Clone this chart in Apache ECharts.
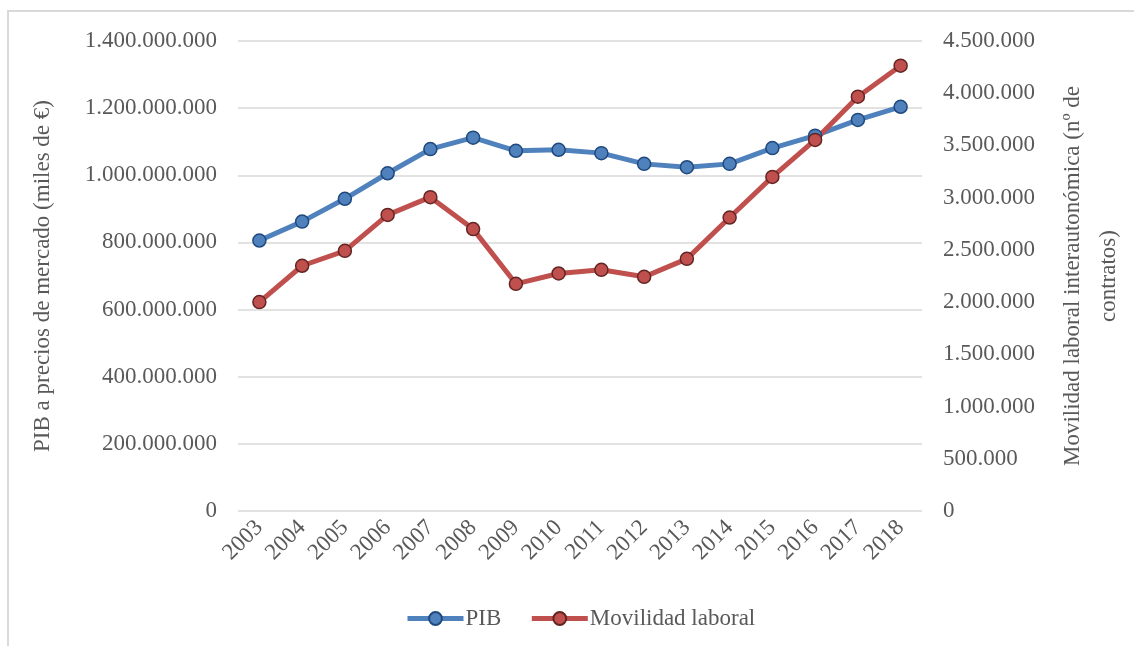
<!DOCTYPE html>
<html>
<head>
<meta charset="utf-8">
<script src="https://cdn.jsdelivr.net/npm/echarts@6/dist/echarts.min.js"></script>
<style>
  html, body { margin: 0; padding: 0; background: #fff; }
  #frame { position: absolute; left: 7px; top: 10px; width: 1127px; height: 636px;
    border-left: 2px solid #d9d9d9; border-top: 2px solid #d9d9d9; box-sizing: border-box; }
  #myChart { position: absolute; left: 0; top: 0; width: 1134px; height: 646px; }
</style>
</head>
<body>
<div id="frame"></div>
<div id="myChart"></div>
<script>
// años
var years = ['2003', '2004', '2005', '2006', '2007', '2008', '2009', '2010',
  '2011', '2012', '2013', '2014', '2015', '2016', '2017', '2018']
// PIB a precios de mercado (miles de €)
var pib = [805600000, 862000000, 930000000, 1006000000, 1078000000, 1112000000,
  1073000000, 1076000000, 1066000000, 1034000000, 1024000000, 1034000000,
  1081000000, 1118000000, 1165000000, 1204000000]
// movilidad laboral interautonómica (nº de contratos)
var movilidad = [2000000, 2348000, 2491000, 2835000, 3005000, 2699000,
  2175000, 2274000, 2309000, 2242000, 2414000, 2810000,
  3199000, 3553000, 3967000, 4264000]

var font = 'Liberation Serif'
var textColor = '#595959'
var fs = 23

// separador de miles con punto
function fmt (v) {
  return String(v).replace(/\B(?=(\d{3})+(?!\d))/g, '.')
}

var myChart = echarts.init(document.getElementById('myChart'))
myChart.setOption({
  animation: false,
  textStyle: { fontFamily: font, color: textColor },
  grid: {
    left: 238,
    right: 212,
    top: 41,
    bottom: 135,
    outerBoundsMode: 'none'
  },
  legend: {
    data: ['PIB', 'Movilidad laboral'],
    left: 400,
    top: 602,
    itemWidth: 56,
    itemHeight: 16,
    itemGap: 28,
    lineStyle: { width: 5 },
    textStyle: { fontFamily: font, fontSize: fs, color: textColor, padding: [0, 0, 0, -3] }
  },
  xAxis: {
    type: 'category',
    data: years,
    boundaryGap: true,
    axisLine: { show: false },
    axisTick: { show: false },
    axisLabel: {
      rotate: 45,
      margin: 13,
      fontFamily: font,
      fontSize: fs,
      color: textColor,
      interval: 0
    }
  },
  yAxis: [
    {
      type: 'value',
      min: 0,
      max: 1400000000,
      interval: 200000000,
      name: 'PIB a precios de mercado (miles de €)',
      nameLocation: 'middle',
      nameRotate: 90,
      nameGap: 184,
      nameTextStyle: { fontFamily: font, fontSize: fs, color: textColor },
      axisLine: { show: false },
      axisTick: { show: false },
      axisLabel: { margin: 21, fontFamily: font, fontSize: fs, color: textColor, formatter: fmt },
      splitLine: { lineStyle: { color: '#d9d9d9', width: 1.5 } }
    },
    {
      type: 'value',
      position: 'right',
      min: 0,
      max: 4500000,
      interval: 500000,
      name: 'Movilidad laboral interautonómica (nº de\ncontratos)',
      nameLocation: 'middle',
      nameRotate: 90,
      nameGap: 133,
      nameTextStyle: { fontFamily: font, fontSize: fs, color: textColor, lineHeight: 36 },
      axisLine: { show: false },
      axisTick: { show: false },
      axisLabel: { margin: 21, fontFamily: font, fontSize: fs, color: textColor, formatter: fmt },
      splitLine: { show: false }
    }
  ],
  series: [
    {
      name: 'PIB',
      type: 'line',
      yAxisIndex: 0,
      data: pib,
      symbol: 'circle',
      symbolSize: 13,
      lineStyle: { color: '#4f81bd', width: 5 },
      itemStyle: { color: '#4f81bd', borderColor: '#1f497d', borderWidth: 1.5 }
    },
    {
      name: 'Movilidad laboral',
      type: 'line',
      yAxisIndex: 1,
      data: movilidad,
      symbol: 'circle',
      symbolSize: 13,
      lineStyle: { color: '#c0504d', width: 5 },
      itemStyle: { color: '#c0504d', borderColor: '#632523', borderWidth: 1.5 }
    }
  ]
})
</script>
</body>
</html>
